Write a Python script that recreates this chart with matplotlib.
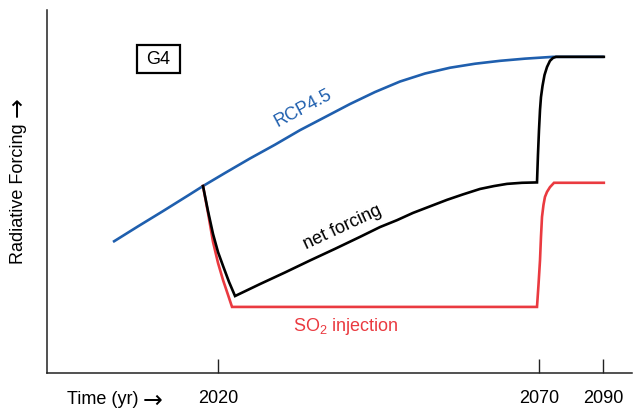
import matplotlib
matplotlib.use('Agg')
import matplotlib.pyplot as plt
from matplotlib.patches import Rectangle

plt.rcParams['font.family'] = ['Liberation Sans', 'DejaVu Sans']
plt.rcParams['mathtext.fontset'] = 'custom'
plt.rcParams['mathtext.rm'] = 'Liberation Sans'
plt.rcParams['mathtext.it'] = 'Liberation Sans:italic'

# schematic time axis (tick positions carry the year labels)
tick_pos = [20, 70, 80]
tick_labels = ['2020', '2070', '2090']

rcp_x = [3.64, 7.54, 11.43, 15.33, 17.66, 21.09, 24.98, 28.88, 32.77, 36.67, 40.56, 44.45,
         48.35, 52.24, 56.14, 60.03, 63.93, 67.82, 72.18, 80.1]
rcp_y = [3.61, 4.04, 4.46, 4.89, 5.15, 5.51, 5.91, 6.29, 6.69, 7.05, 7.41, 7.74,
         8.03, 8.25, 8.41, 8.52, 8.60, 8.66, 8.71, 8.71]

so2_x = [17.66, 18.44, 19.22, 20.0, 20.78, 21.56, 22.18, 69.69, 69.92, 70.16, 70.31,
         70.47, 70.70, 70.93, 71.25, 71.71, 72.34, 80.1]
so2_y = [5.15, 4.41, 3.61, 3.03, 2.56, 2.15, 1.82, 1.82, 2.42, 3.11, 3.75,
         4.30, 4.63, 4.85, 4.99, 5.12, 5.24, 5.24]

net_x = [17.66, 18.44, 19.22, 20.0, 20.78, 21.71, 22.65, 26.54, 30.44, 34.33, 38.22, 42.12,
         45.23, 47.88, 50.37, 53.02, 55.67, 58.16, 60.81, 62.99, 65.02, 67.35, 69.69,
         69.84, 70.0, 70.16, 70.31, 70.55, 70.86, 71.25, 71.71, 72.18, 72.65, 80.1]
net_y = [5.15, 4.46, 3.83, 3.33, 2.95, 2.51, 2.12, 2.45, 2.77, 3.10, 3.42, 3.75,
         4.02, 4.21, 4.41, 4.59, 4.77, 4.92, 5.07, 5.15, 5.21, 5.24, 5.25,
         6.01, 6.69, 7.25, 7.60, 7.91, 8.21, 8.43, 8.60, 8.68, 8.71, 8.71]

blue = '#1f5fae'
red = '#ea3a40'
arrow_font = ['DejaVu Sans']

fig = plt.figure(figsize=(6.38, 4.12), dpi=100)
ax = fig.add_axes([0.0737, 0.0947, 0.9169, 0.881])

ax.plot(rcp_x, rcp_y, color=blue, lw=1.9, solid_capstyle='butt')
ax.plot(so2_x, so2_y, color=red, lw=1.9, solid_joinstyle='miter')
ax.plot(net_x, net_y, color='black', lw=1.9, solid_joinstyle='miter')

ax.set_xlim(-6.64, 84.49)
ax.set_ylim(0, 10)

for s in ['top', 'right']:
    ax.spines[s].set_visible(False)
for s in ['left', 'bottom']:
    ax.spines[s].set_linewidth(1.1)
    ax.spines[s].set_color('#222222')

ax.set_yticks([])
ax.set_xticks(tick_pos)
ax.set_xticklabels(tick_labels, fontsize=13)
ax.tick_params(axis='x', direction='in', length=10, width=1.0, pad=12.5, color='#222222')

ax.text(33.24, 7.30, 'RCP4.5', color=blue, fontsize=13, rotation=28,
        ha='center', va='center', rotation_mode='anchor')
ax.text(39.47, 4.02, 'net forcing', color='black', fontsize=13, rotation=25,
        ha='center', va='center', rotation_mode='anchor')
ax.text(39.94, 1.27, r'SO$_\mathrm{2}$ injection', color=red, fontsize=13,
        ha='center', va='center')

ax.add_patch(Rectangle((0.1538, 0.8264), 0.0735, 0.0771, transform=ax.transAxes,
                       fill=False, edgecolor='black', lw=1.6, clip_on=False))
ax.text(0.1906, 0.8645, 'G4', transform=ax.transAxes, fontsize=13,
        ha='center', va='center')

# axis labels, with the arrows set apart
fig.text(67 / 638, 1 - 400 / 412, 'Time (yr)', fontsize=13, ha='left', va='center')
fig.text(153 / 638, 1 - 401 / 412, '\u2192', fontsize=17, family=arrow_font,
         ha='center', va='center')
fig.text(19 / 638, 1 - 194 / 412, 'Radiative Forcing', fontsize=13,
         rotation=90, ha='center', va='center')
fig.text(18 / 638, 1 - 107 / 412, '\u2192', fontsize=17, family=arrow_font,
         rotation=90, ha='center', va='center')

fig.savefig('out.png', dpi=100)
